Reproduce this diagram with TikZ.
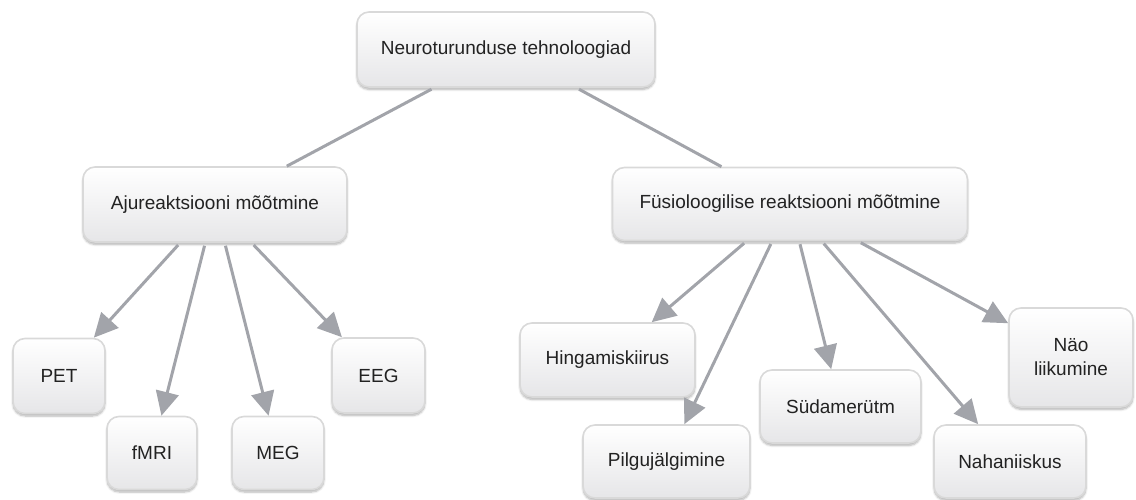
\documentclass[tikz,border=0pt]{standalone}
\usepackage{fontspec}
\setmainfont{Liberation Sans}
\usetikzlibrary{arrows.meta,shadows.blur}
\definecolor{boxborder}{HTML}{D9D9D9}
\definecolor{boxbot}{HTML}{E6E6E8}
\definecolor{arrowgray}{HTML}{A2A4AA}
\definecolor{txt}{HTML}{222222}
\tikzset{
  box/.style={draw=boxborder, line width=1.6pt, rounded corners=12pt,
    top color=white, bottom color=boxbot,
    blur shadow={shadow xshift=0pt, shadow yshift=-2.5pt, shadow blur steps=6, shadow opacity=30},
    font=\fontsize{19}{24}\selectfont, text=txt, align=center, inner sep=0pt},
  link/.style={draw=arrowgray, line width=3pt, shorten <=3pt},
  arr/.style={link, -{Triangle[length=24pt,width=23pt]}}
}
\begin{document}
\begin{tikzpicture}[x=1pt,y=-1pt]
\useasboundingbox (0,0) rectangle (1136,500);
\node[box, minimum width=298pt, minimum height=75pt] (top) at (506,49.5) {Neuroturunduse tehnoloogiad};
\node[box, minimum width=264pt, minimum height=75pt] (aju) at (215,204.5) {Ajureaktsiooni mõõtmine};
\node[box, minimum width=355pt, minimum height=73pt] (fys) at (790,204) {Füsioloogilise reaktsiooni mõõtmine};
\node[box, minimum width=92pt, minimum height=75pt] (pet) at (59,376) {PET};
\node[box, minimum width=90pt, minimum height=73pt] (fmri) at (152,453) {fMRI};
\node[box, minimum width=92pt, minimum height=73pt] (meg) at (278,453) {MEG};
\node[box, minimum width=93pt, minimum height=75pt] (eeg) at (378.5,375.5) {EEG};
\node[box, minimum width=175pt, minimum height=74pt] (hing) at (607.5,360) {Hingamiskiirus};
\node[box, minimum width=167pt, minimum height=73pt] (pilg) at (666.5,461.5) {Pilgujälgimine};
\node[box, minimum width=161pt, minimum height=73pt] (syd) at (840.5,406.5) {Südamerütm};
\node[box, minimum width=152pt, minimum height=73pt] (nah) at (1010,461.5) {Nahaniiskus};
\node[box, minimum width=124pt, minimum height=99pt] (nao) at (1071,357.5) {Näo\\liikumine};
\draw[link] (top) -- (aju);
\draw[link] (top) -- (fys);
\draw[arr] (aju) -- (pet);
\draw[arr] (aju) -- (fmri);
\draw[arr] (aju) -- (meg);
\draw[arr] (aju) -- (eeg);
\draw[arr] (fys) -- (hing);
\draw[arr] (fys) -- (pilg);
\draw[arr] (fys) -- (syd);
\draw[arr] (fys) -- (nah);
\draw[arr] (fys) -- (nao);
\end{tikzpicture}
\end{document}
